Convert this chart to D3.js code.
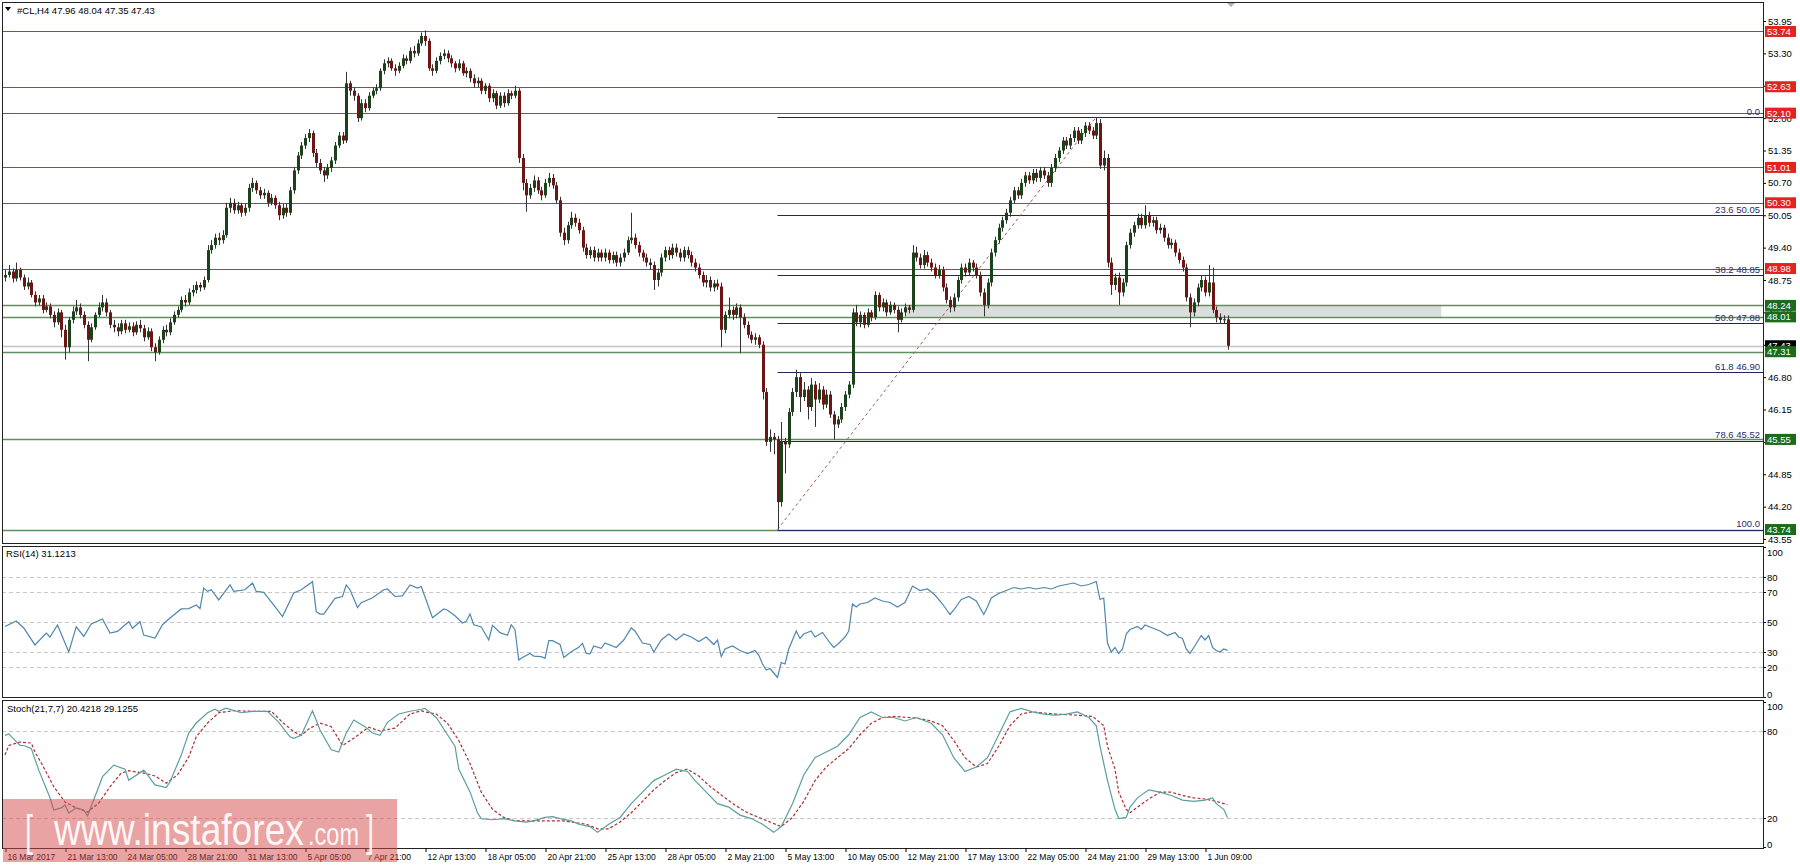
<!DOCTYPE html>
<html><head><meta charset="utf-8">
<script src="https://cdnjs.cloudflare.com/ajax/libs/d3/7.8.5/d3.min.js"></script>
<style>html,body{margin:0;padding:0;background:#fff;}svg{display:block;}text{font-family:'Liberation Sans',Arial,sans-serif;}</style>
</head><body><svg id="c" width="1800" height="868"></svg>
<script>
// ---------------- DATA ----------------
const firstOpen = 48.80;
const closes = [48.85,48.92,48.78,48.95,48.80,48.62,48.70,48.45,48.30,48.38,
48.15,48.22,48.05,47.90,48.10,47.75,47.40,47.95,48.12,48.20,
48.05,47.85,47.55,47.80,48.05,48.20,48.30,48.10,47.85,47.80,
47.72,47.88,47.75,47.82,47.70,47.85,47.78,47.60,47.72,47.40,
47.30,47.55,47.75,47.70,47.90,48.05,48.15,48.35,48.30,48.50,
48.55,48.65,48.60,48.75,49.35,49.45,49.60,49.55,49.65,50.20,
50.30,50.15,50.25,50.10,50.20,50.60,50.70,50.55,50.45,50.50,
50.30,50.40,50.25,50.05,50.20,50.10,50.55,50.95,51.25,51.45,
51.60,51.70,51.30,51.10,50.95,50.85,51.00,51.15,51.45,51.65,
51.55,52.70,52.55,52.45,52.00,52.30,52.20,52.45,52.55,52.60,
52.95,53.10,53.15,53.00,52.95,53.05,53.20,53.15,53.35,53.30,
53.50,53.65,53.55,53.00,52.95,53.15,53.25,53.30,53.20,53.10,
53.00,53.10,52.90,52.95,52.80,52.70,52.75,52.55,52.65,52.40,
52.50,52.25,52.45,52.30,52.50,52.45,52.55,51.20,50.70,50.45,
50.60,50.75,50.55,50.45,50.70,50.80,50.65,50.35,49.70,49.55,
49.85,50.00,49.90,49.75,49.40,49.25,49.35,49.20,49.30,49.20,
49.30,49.15,49.25,49.10,49.20,49.30,49.55,49.60,49.45,49.30,
49.20,49.10,49.05,48.75,48.90,49.20,49.35,49.25,49.40,49.30,
49.20,49.35,49.25,49.10,49.00,48.85,48.70,48.75,48.60,48.68,
48.62,47.75,48.05,48.15,48.05,48.20,48.00,47.85,47.65,47.55,
47.60,47.45,46.50,45.50,45.60,45.55,44.29,45.50,45.45,46.10,
46.50,46.80,46.40,46.55,46.20,46.65,46.35,46.55,46.25,46.45,
46.05,45.85,45.95,46.20,46.45,46.65,48.10,47.90,48.05,47.85,
48.10,48.00,48.45,48.20,48.30,48.10,48.25,48.15,47.95,48.10,
48.20,48.15,49.30,49.20,49.05,49.25,49.10,49.00,48.85,48.95,
48.60,48.35,48.20,48.40,48.75,49.00,48.90,49.10,49.00,48.85,
48.50,48.25,48.70,49.30,49.55,49.80,49.95,50.10,50.35,50.55,
50.45,50.70,50.85,50.75,50.90,50.80,50.95,50.85,50.70,51.00,
51.20,51.35,51.55,51.45,51.60,51.75,51.55,51.70,51.85,51.75,
51.65,51.90,51.05,51.20,49.10,48.65,48.80,48.50,48.70,49.45,
49.70,49.85,50.00,49.85,50.05,49.90,49.95,49.75,49.80,49.60,
49.45,49.50,49.30,49.15,49.00,48.40,48.10,48.30,48.60,48.75,
48.50,48.70,48.15,48.00,47.95,47.96,47.43];
const highs = [48.95,49.05,48.98,49.10,49.00,48.86,48.80,48.75,48.52,48.45,
48.45,48.30,48.28,48.12,48.18,48.15,47.85,48.00,48.22,48.35,
48.28,48.12,47.92,47.88,48.10,48.30,48.45,48.38,48.15,47.95,
47.88,47.95,47.95,47.90,47.90,47.92,47.95,47.85,47.80,47.78,
47.48,47.62,47.82,47.85,47.98,48.12,48.22,48.42,48.45,48.58,
48.65,48.72,48.70,48.82,49.45,49.55,49.68,49.70,49.75,50.30,
50.40,50.38,50.32,50.30,50.28,50.68,50.80,50.75,50.62,50.58,
50.55,50.48,50.45,50.32,50.28,50.28,50.62,51.02,51.32,51.52,
51.68,51.78,51.75,51.38,51.18,51.02,51.08,51.22,51.52,51.72,
51.72,52.93,52.75,52.62,52.50,52.38,52.38,52.52,52.62,52.68,
53.00,53.18,53.22,53.20,53.08,53.12,53.28,53.26,53.42,53.45,
53.58,53.72,53.76,53.60,53.08,53.22,53.32,53.38,53.36,53.26,
53.15,53.18,53.15,53.02,53.00,52.88,52.82,52.80,52.70,52.70,
52.58,52.55,52.52,52.52,52.58,52.55,52.65,52.60,51.28,50.78,
50.68,50.85,50.82,50.62,50.78,50.90,50.88,50.72,50.42,49.80,
49.92,50.12,50.08,49.98,49.82,49.48,49.42,49.42,49.38,49.36,
49.38,49.36,49.32,49.32,49.28,49.38,49.62,50.10,49.68,49.52,
49.36,49.28,49.18,49.12,48.98,49.28,49.42,49.42,49.48,49.48,
49.38,49.42,49.42,49.32,49.18,49.08,48.92,48.85,48.82,48.75,
48.76,48.70,48.12,48.40,48.22,48.28,48.26,48.08,47.92,47.72,
47.68,47.65,47.52,46.58,45.75,45.68,45.62,45.90,45.58,46.18,
46.58,46.95,46.88,46.70,46.62,46.78,46.72,46.68,46.62,46.55,
46.52,46.12,46.02,46.28,46.52,46.72,48.18,48.25,48.12,48.10,
48.18,48.15,48.52,48.50,48.38,48.36,48.32,48.30,48.22,48.18,
48.28,48.25,49.45,49.42,49.28,49.35,49.32,49.18,49.08,49.05,
49.02,48.68,48.42,48.48,48.82,49.08,49.08,49.18,49.15,49.08,
48.92,48.58,48.78,49.38,49.62,49.88,50.02,50.18,50.42,50.62,
50.62,50.78,50.92,50.92,50.98,50.98,51.02,51.02,50.92,51.08,
51.28,51.42,51.62,51.62,51.68,51.82,51.82,51.78,51.92,51.92,
51.82,52.02,51.98,51.35,51.28,49.20,48.88,48.90,48.78,49.52,
49.78,49.92,50.08,50.08,50.25,50.12,50.02,50.02,49.88,49.86,
49.68,49.58,49.56,49.38,49.22,49.08,48.48,48.38,48.68,48.85,
48.82,49.05,49.00,48.22,48.08,48.04,48.04];
const lows = [48.72,48.80,48.70,48.72,48.74,48.55,48.56,48.40,48.22,48.24,
48.08,48.10,47.98,47.80,47.85,47.60,47.15,47.30,47.88,48.05,
47.98,47.78,47.12,47.50,47.75,48.00,48.12,48.02,47.78,47.70,
47.62,47.66,47.68,47.70,47.62,47.65,47.70,47.52,47.55,47.32,
47.12,47.25,47.48,47.62,47.64,47.85,48.00,48.10,48.22,48.25,
48.42,48.48,48.52,48.55,48.70,49.28,49.38,49.45,49.48,49.60,
50.10,50.08,50.08,50.02,50.04,50.12,50.52,50.48,50.38,50.38,
50.22,50.25,50.18,49.95,49.98,50.02,50.05,50.48,50.88,51.18,
51.38,51.52,51.22,51.02,50.88,50.72,50.78,50.92,51.08,51.40,
51.48,51.50,52.45,52.35,51.92,51.95,52.12,52.15,52.40,52.48,
52.55,52.88,53.02,52.95,52.85,52.90,53.00,53.08,53.10,53.22,
53.25,53.45,53.45,52.95,52.85,52.90,53.08,53.18,53.12,53.02,
52.92,52.95,52.85,52.82,52.72,52.62,52.62,52.48,52.48,52.32,
52.32,52.18,52.20,52.22,52.25,52.38,52.40,51.10,50.55,50.12,
50.38,50.52,50.48,50.35,50.40,50.62,50.58,50.28,49.62,49.45,
49.48,49.78,49.82,49.68,49.32,49.18,49.18,49.12,49.12,49.12,
49.12,49.08,49.08,49.02,49.02,49.12,49.25,49.48,49.38,49.22,
49.12,49.02,48.95,48.55,48.62,48.82,49.12,49.15,49.18,49.22,
49.12,49.12,49.18,49.02,48.92,48.78,48.62,48.60,48.52,48.52,
48.55,47.40,47.68,47.98,47.95,47.98,47.28,47.78,47.58,47.48,
47.45,47.38,46.35,45.42,45.30,45.25,43.74,44.20,44.87,45.38,
46.02,46.40,46.10,46.32,45.95,46.12,45.80,46.28,46.15,46.18,
45.98,45.55,45.78,45.88,46.12,46.38,46.58,47.82,47.80,47.78,
47.80,47.92,47.95,48.12,48.12,48.02,48.05,48.08,47.70,47.90,
48.02,48.08,48.10,49.12,48.98,48.98,49.02,48.92,48.78,48.78,
48.52,48.28,48.10,48.12,48.32,48.68,48.82,48.85,48.92,48.78,
48.42,48.02,48.18,48.62,49.22,49.48,49.72,49.88,50.02,50.28,
50.38,50.38,50.62,50.68,50.68,50.72,50.72,50.78,50.62,50.62,
50.92,51.12,51.28,51.38,51.38,51.52,51.48,51.48,51.62,51.68,
51.58,51.58,50.98,50.95,49.00,48.45,48.55,48.25,48.42,48.62,
49.38,49.62,49.78,49.78,49.78,49.82,49.82,49.68,49.68,49.52,
49.38,49.38,49.22,49.08,48.92,48.32,47.80,48.02,48.22,48.52,
48.42,48.42,48.08,47.90,47.88,47.88,47.35];

const rsiBars = [0,3,5,8,11,12,14,17,19,21,23,26,28,30,33,34,36,37,40,42,44,47,49,51,52,53,54,55,57,60,61,64,66,67,69,72,74,77,79,82,83,84,85,88,90,91,92,94,95,98,101,102,104,106,108,110,111,114,117,118,120,122,123,124,125,127,129,130,132,134,135,136,137,138,140,141,143,144,145,146,148,149,151,153,154,155,156,157,159,
160,163,165,167,168,170,172,173,175,177,179,181,183,185,187,189,190,191,192,194,196,198,200,201,202,203,204,205,206,207,208,209,210,211,212,213,215,216,218,220,221,222,224,225,226,227,228,230,232,234,236,238,240,242,244,246,248,250,252,253,255,257,259,261,262,263,265,267,269,271,273,275,277,279,281,283,285,287,289,291,292,293,294,295,296,297,298,299,300,302,303,304,306,308,310,312,313,314,315,316,317,318,319,320,321,322,323,324,325,326];
const rsiVals = [47,50.7,46,34.7,42.6,40,48,30,46.8,40.4,48.7,52,42.6,43.7,50.2,45.8,50.2,41.3,39.3,48.2,52.7,58.7,58.9,61.3,59,72.6,70.4,71.5,64.7,74.7,70.4,71.5,76,70.4,69.8,60.2,53.6,69.3,71.5,76.9,56.9,55.3,55.3,65.8,67,74.7,71.5,59.6,62.9,66.2,71.5,72,67,67.4,74.7,72.6,73.7,52.8,58.7,57.8,54.2,49.3,50.4,55.3,48.2,46.7,38,47.8,42.9,41.1,48.2,44.9,24.7,26.4,29.1,27.3,26.9,25.8,37.6,37.6,35.1,26.4,30.2,33.1,35.8,29.1,28.7,34,32.4,
36,33,38,46,44,36,35,30,38,42,38,42,40,37,40,35,38,27,32,34,31,29,31,28,22,18,19,16,13,23,22,32,38,44,39,42,44,40,43,36,33,35,40,44,62,60,62,63,66,64,63,60,63,74,71,72,68,62,55,58,65,67,64,55,60,66,69,71,73,72,73,72,73,72,74,75,76,74,75,77,65,66,36,30,33,29,32,42,45,47,45,48,46,44,41,43,40,39,32,29,33,37,41,38,41,33,31,30,32,31.12];

const stMainBars = [0,1,4,5,7,9,12,13,15,16,17,19,21,22,25,26,29,32,33,37,38,40,43,44,47,49,51,54,56,57,59,63,66,70,73,76,77,79,82,84,87,89,91,93,96,98,100,102,105,108,111,
112,115,117,120,121,124,126,127,130,133,136,139,141,144,146,148,151,153,156,158,161,164,167,170,173,176,179,182,184,187,190,193,196,199,202,205,207,210,213,216,219,222,225,228,231,234,237,240,243,247,250,253,256,259,262,265,268,271,274,277,280,283,286,289,291,292,294,296,297,299,300,302,305,308,311,314,317,320,322,323,325,326];
const stMainVals = [77,78,70,70,68,53,34,25.5,27,29,23.4,27,25.5,21.4,41.6,48.5,56.5,53.6,46,53,49.7,42.8,41,45,63.4,78.6,85.5,92.6,95,93.6,95.8,92.6,93.6,93.6,86,76,75,77,94,80.7,67,65.5,78.6,87.6,83,78.6,77,86,91.7,93.6,95,
95.6,89.3,81.4,69.5,53.7,38,23.6,19.6,18.8,19.6,18,17.2,18,20.4,21,19.6,18,15.7,14.1,10.1,15.7,20.4,29.9,37.8,45.8,49.7,53.7,52.1,45.8,37.8,29.9,27.5,22,19.6,15.7,10.1,14.1,29.9,49.7,61.6,65.5,69.5,77.4,89.3,93.2,89.3,89.3,86.9,89.3,85.3,77.4,61.6,52.1,55.2,61.6,77.4,93.2,95.6,93.2,91.7,90.9,91.7,93.2,89.3,83.7,69.5,45.8,26,19.6,20.4,27.5,33.9,39.4,37.8,35.5,32.3,31.5,32.3,33.9,29.9,26,20.42];
const stSigBars = [0,1,4,7,8,10,13,16,19,22,25,28,31,33,37,40,43,46,49,51,54,57,61,66,71,74,77,79,81,84,87,90,93,97,100,104,108,111,
112,115,118,121,124,127,130,133,136,143,149,155,158,161,164,167,170,173,176,179,182,185,188,192,195,198,201,204,207,210,213,216,219,222,225,228,231,234,237,241,244,247,250,253,256,259,262,265,268,271,274,280,286,290,293,294,296,297,299,300,302,305,308,311,314,317,320,323,326];
const stSigVals = [63.4,70,72.4,71.7,65.5,56.5,41.6,31,26.9,24.1,30.3,41.6,51,52.6,51,49,44,49.7,62,76,85.5,92.6,94,93.6,93.6,86,79.5,77,81.4,85.5,83,70,75,82.6,80,82,91.7,94,
93.2,91.7,85.3,73.5,57.6,37.8,26,20.4,18,18,18,15.7,12.5,12.5,17.2,23.6,31.5,39.4,45.8,51.3,53.7,48.9,41.8,33.9,28.3,23.6,20.4,17.2,14.1,20.4,31.5,45.8,55.2,61.6,67.9,77.4,85.3,89.3,90.1,89.3,88.5,86.9,83.7,73.5,61.6,55.2,57.6,69.5,83.7,91.7,93.2,91.7,90.9,90.1,83.7,69.5,53.7,37.8,26,23.6,27.5,33.1,37.8,37.8,35.5,33.9,33.1,31.5,29.13];

const redLevels = [53.74, 52.63, 52.10, 51.01, 50.30, 48.98];
const greenLevels = [48.24, 48.01, 47.31, 45.55, 43.74];
const currentPrice = 47.43;
const fibLevels = ["0.0", "23.6", "38.2", "50.0", "61.8", "78.6", "100.0"];
const fibPrices = [52.02, 50.05, 48.85, 47.88, 46.90, 45.52, 43.74];
const fibShowPrice = [false, true, true, true, true, true, false];
const fibStartBar = 206;
const trendBars = [206, 291];
const trendPrices = [43.74, 52.02];
const zoneBars = [240, 383];
const zonePrices = [48.24, 48.01];
const priceTicks = [53.95,53.30,52.65,52.00,51.35,50.70,50.05,49.40,48.75,48.10,47.45,46.80,46.15,45.50,44.85,44.20,43.55];
const rsiTicks = [100,80,70,50,30,20,0];
const rsiLevels = [80,70,50,30,20];
const stTicks = [100,80,20,0];
const stLevels = [80,20];
const timeBars = [0,16,32,48,64,80,96,112,128,144,160,176,192,208,224,240,256,272,288,304,320];
const timeLabels = ["16 Mar 2017","21 Mar 13:00","24 Mar 05:00","28 Mar 21:00","31 Mar 13:00","5 Apr 05:00","7 Apr 21:00","12 Apr 13:00","18 Apr 05:00","20 Apr 21:00","25 Apr 13:00","28 Apr 05:00","2 May 21:00","5 May 13:00","10 May 05:00","12 May 21:00","17 May 13:00","22 May 05:00","24 May 21:00","29 May 13:00","1 Jun 09:00"];
const headerText = "#CL,H4  47.96 48.04 47.35 47.43";
const rsiTitle = "RSI(14) 31.1213";
const stTitle = "Stoch(21,7,7) 20.4218 29.1255";

// ---------------- LAYOUT ----------------
const L = 2, R = 1763;
const mainTop = 2, mainBot = 543, rsiTop = 546, rsiBot = 697, stTop = 700, stBot = 848;
const FONT = "'Liberation Sans', Arial, sans-serif";

const x = d3.scaleLinear().domain([0, 326]).range([5, 1227.5]);
const y = d3.scaleLinear().domain([43.55, 53.95]).range([539, 21]);
const yR = d3.scaleLinear().domain([0, 100]).range([697, 547]);
const yS = d3.scaleLinear().domain([0, 100]).range([847, 702]);

const svg = d3.select('#c');
svg.append('rect').attr('width', 1800).attr('height', 868).attr('fill', '#fff');
const defs = svg.append('defs');
function clip(id, t, b) {
  defs.append('clipPath').attr('id', id).append('rect').attr('x', L).attr('y', t).attr('width', R - L).attr('height', b - t);
}
clip('cm', mainTop, mainBot); clip('cr', rsiTop, rsiBot); clip('cs', stTop, stBot);
const px = v => Math.round(v) + 0.5;

// ---------------- MAIN PANEL ----------------
const gm = svg.append('g').attr('clip-path', 'url(#cm)');
gm.append('rect').attr('x', x(zoneBars[0])).attr('width', x(zoneBars[1]) - x(zoneBars[0]))
  .attr('y', y(zonePrices[0])).attr('height', y(zonePrices[1]) - y(zonePrices[0])).attr('fill', '#dcdcdc');

function hline(g, yy, x1, color, w) {
  g.append('line').attr('x1', x1).attr('x2', R).attr('y1', px(yy)).attr('y2', px(yy))
    .attr('stroke', color).attr('stroke-width', w);
}
hline(gm, y(currentPrice), L, '#c4c4c4', 1.5);
redLevels.forEach(p => hline(gm, y(p), L, '#b23b3b', 1.2));
greenLevels.forEach(p => hline(gm, y(p), L, '#5e8f5e', 1.5));
fibPrices.forEach(p => hline(gm, y(p), x(fibStartBar), '#24245e', 1.2));

gm.append('line').attr('x1', x(trendBars[0])).attr('y1', y(trendPrices[0]))
  .attr('x2', x(trendBars[1])).attr('y2', y(trendPrices[1]))
  .attr('stroke', '#a85858').attr('stroke-width', 1).attr('stroke-dasharray', '3,3');

const bars = closes.map((c, i) => ({ i, o: i ? closes[i - 1] : firstOpen, h: highs[i], l: lows[i], c }));
const gc = gm.append('g');
gc.selectAll('line.w').data(bars).join('line').attr('class', 'w')
  .attr('x1', d => px(x(d.i))).attr('x2', d => px(x(d.i)))
  .attr('y1', d => y(d.h)).attr('y2', d => y(d.l)).attr('stroke', '#333').attr('stroke-width', 1);
gc.selectAll('rect.b').data(bars).join('rect').attr('class', 'b')
  .attr('x', d => Math.round(x(d.i)) - 1).attr('width', 3)
  .attr('y', d => y(Math.max(d.o, d.c)))
  .attr('height', d => Math.max(1, Math.abs(y(d.o) - y(d.c))))
  .attr('fill', d => d.c >= d.o ? '#1b431b' : '#6e1414');

// fib labels
fibLevels.forEach((lv, k) => {
  svg.append('text').attr('x', R - 3).attr('y', y(fibPrices[k]) - 2.5).attr('text-anchor', 'end')
    .attr('font-size', 9.5).attr('fill', '#2a2a66')
    .text(fibShowPrice[k] ? lv + ' ' + fibPrices[k].toFixed(2) : lv);
});

// header
svg.append('path').attr('d', 'M5,7 L11,7 L8,11 Z').attr('fill', '#000');
svg.append('text').attr('x', 17).attr('y', 13.5).attr('font-size', 9.5).attr('fill', '#000').text(headerText);
svg.append('path').attr('d', 'M1226,2 L1236,2 L1231,7 Z').attr('fill', '#b0b0b0');

// ---------------- PRICE AXIS ----------------
const ax = svg.append('g').attr('transform', `translate(${R},0)`)
  .call(d3.axisRight(y).tickValues(priceTicks).tickSize(3).tickPadding(2).tickFormat(d3.format('.2f')));
ax.select('.domain').remove();
ax.selectAll('text').attr('font-size', 9.5).attr('font-family', FONT).attr('fill', '#000');
ax.selectAll('line').attr('stroke', '#000');

function box(p, fill) {
  const yy = y(p);
  svg.append('rect').attr('x', R + 2).attr('y', yy - 5.5).attr('width', 31).attr('height', 11).attr('fill', fill);
  svg.append('text').attr('x', R + 4).attr('y', yy + 3.5).attr('font-size', 9.5).attr('fill', '#fff').text(p.toFixed(2));
}
box(currentPrice, '#000');
redLevels.forEach(p => box(p, '#e2231f'));
greenLevels.forEach(p => box(p, '#1d6a1d'));

// ---------------- RSI PANEL ----------------
const gr = svg.append('g').attr('clip-path', 'url(#cr)');
rsiLevels.forEach(v => gr.append('line').attr('x1', L).attr('x2', R).attr('y1', px(yR(v))).attr('y2', px(yR(v)))
  .attr('stroke', '#c8c8c8').attr('stroke-dasharray', '4,3'));
gr.append('path').datum(rsiBars.map((b, k) => [b, rsiVals[k]]))
  .attr('d', d3.line().x(d => x(d[0])).y(d => yR(d[1])))
  .attr('fill', 'none').attr('stroke', '#4f86ad').attr('stroke-width', 1.2);
svg.append('text').attr('x', 6).attr('y', 557).attr('font-size', 9.5).attr('fill', '#000').text(rsiTitle);
rsiTicks.forEach(v => {
  const yy = Math.min(Math.max(yR(v), rsiTop + 6), rsiBot - 3);
  svg.append('line').attr('x1', R).attr('x2', R + 3).attr('y1', px(yR(v))).attr('y2', px(yR(v))).attr('stroke', '#000');
  svg.append('text').attr('x', R + 4).attr('y', yy + 3.5).attr('font-size', 9.5).attr('fill', '#000').text(v);
});

// ---------------- STOCH PANEL ----------------
const gs = svg.append('g').attr('clip-path', 'url(#cs)');
stLevels.forEach(v => gs.append('line').attr('x1', L).attr('x2', R).attr('y1', px(yS(v))).attr('y2', px(yS(v)))
  .attr('stroke', '#c8c8c8').attr('stroke-dasharray', '4,3'));
gs.append('path').datum(stSigBars.map((b, k) => [b, stSigVals[k]]))
  .attr('d', d3.line().x(d => x(d[0])).y(d => yS(d[1])))
  .attr('fill', 'none').attr('stroke', '#a83232').attr('stroke-width', 1.2).attr('stroke-dasharray', '3,2');
gs.append('path').datum(stMainBars.map((b, k) => [b, stMainVals[k]]))
  .attr('d', d3.line().x(d => x(d[0])).y(d => yS(d[1])))
  .attr('fill', 'none').attr('stroke', '#5b9ea0').attr('stroke-width', 1.2);
svg.append('text').attr('x', 7).attr('y', 712).attr('font-size', 9.5).attr('fill', '#000').text(stTitle);
stTicks.forEach(v => {
  const yy = Math.min(Math.max(yS(v), stTop + 6), stBot - 4);
  svg.append('line').attr('x1', R).attr('x2', R + 3).attr('y1', px(yS(v))).attr('y2', px(yS(v))).attr('stroke', '#000');
  svg.append('text').attr('x', R + 4).attr('y', yy + 3.5).attr('font-size', 9.5).attr('fill', '#000').text(v);
});

// ---------------- FRAMES ----------------
[[mainTop, mainBot], [rsiTop, rsiBot], [stTop, stBot]].forEach(([t, b]) => {
  svg.append('rect').attr('x', L + 0.5).attr('y', t + 0.5).attr('width', R - L).attr('height', b - t)
    .attr('fill', 'none').attr('stroke', '#222').attr('stroke-width', 1);
});

// ---------------- TIME AXIS ----------------
const tx = svg.append('g').attr('transform', `translate(0,${stBot})`)
  .call(d3.axisBottom(x).tickValues(timeBars).tickSize(4).tickFormat((d, k) => timeLabels[k]));
tx.select('.domain').remove();
tx.selectAll('line').attr('stroke', '#000').attr('transform', 'translate(0.5,0)');
tx.selectAll('text').attr('text-anchor', 'start').attr('x', 2).attr('y', 6).attr('dy', '0.71em')
  .attr('font-size', 8.5).attr('font-family', FONT).attr('fill', '#000');

// ---------------- WATERMARK ----------------
const wm = svg.append('g');
wm.append('rect').attr('x', 3).attr('y', 799).attr('width', 394).attr('height', 63).attr('fill', 'rgba(214,72,72,0.5)');
const wf = 'rgba(255,255,255,0.92)';
function fitText(str, x0, base, size, w) {
  const t = wm.append('text').attr('x', 0).attr('y', 0).attr('font-size', size).attr('fill', wf)
    .attr('font-family', "'Open Sans',sans-serif").text(str);
  const len = t.node().getComputedTextLength();
  t.attr('transform', `translate(${x0},${base}) scale(${w / len},1)`);
}
fitText('[', 25, 846, 44, 8);
fitText('www.instaforex', 54, 845, 44, 250);
fitText('.com', 308, 845, 32, 51);
fitText(']', 366, 846, 44, 8);
</script>
</body></html>
